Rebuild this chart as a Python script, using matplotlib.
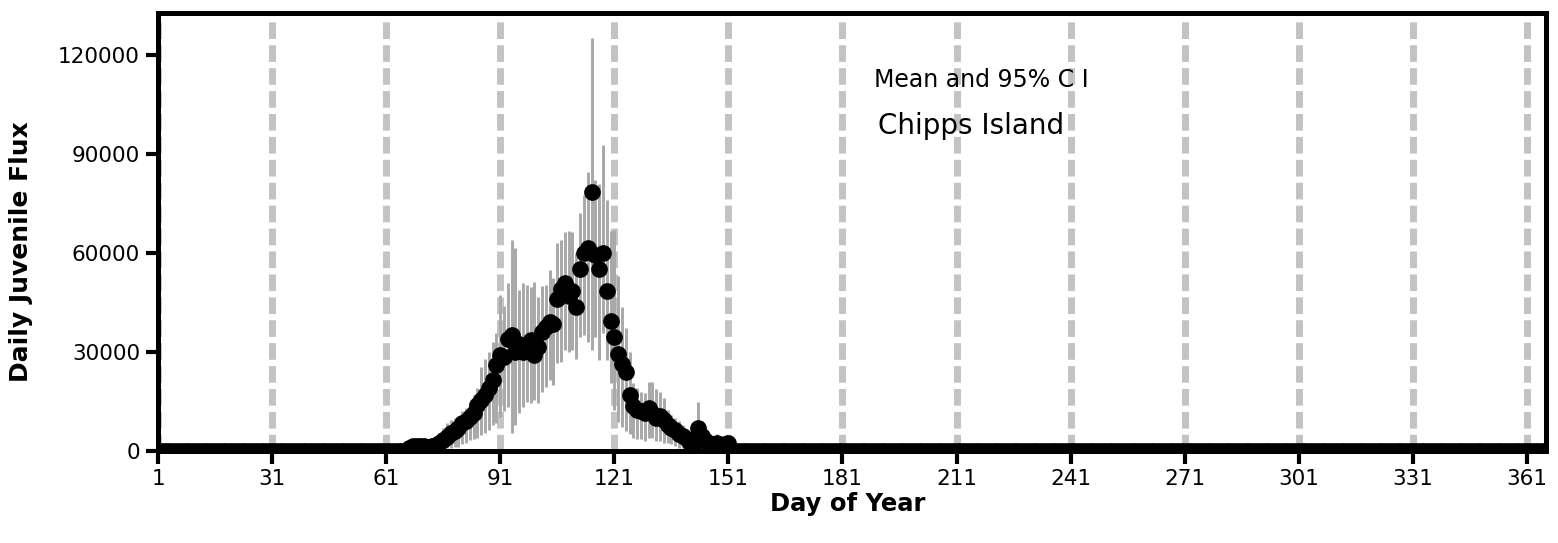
import numpy as np
import matplotlib
matplotlib.use("Agg")
import matplotlib.pyplot as plt

# ---- data ----
days_active = list(range(66, 153))
mean_active = [0, 1000, 1500, 1500, 1500, 1500, 1200, 1500, 1800, 2500,
               3300, 4300, 5400, 6000, 7000, 8500, 9000, 10300, 11500, 14000,
               15500, 17000, 19000, 21500, 26000, 29000, 28500, 34000, 35000, 30000,
               32500, 30000, 32000, 33500, 29000, 31500, 36000, 37500, 39000, 38500,
               46000, 49000, 51000, 47000, 48500, 43500, 55000, 60000, 61500, 78500,
               59500, 55000, 60000, 48500, 39500, 34500, 29500, 26500, 24000, 17000,
               13500, 12500, 12000, 11500, 13000, 11500, 10000, 10500, 9500, 8000,
               7000, 6500, 5000, 4500, 3500, 2500, 2000, 7000, 4500, 3000,
               2000, 2000, 2500, 1500, 2000, 2500, 0]
lower_active = [0, 0, 200, 300, 300, 300, 200, 300, 300, 500,
                600, 800, 1000, 1200, 1200, 2000, 2500, 3300, 3500, 3900,
                4800, 5500, 6400, 8000, 8500, 10300, 12000, 13300, 5400, 8000,
                11500, 13300, 14800, 14500, 15500, 14500, 18000, 19400, 21500, 20000,
                26700, 27000, 30600, 30000, 30600, 28000, 34500, 35000, 33000, 30600,
                34500, 27500, 35700, 27500, 20600, 12400, 8800, 7300, 6000, 5000,
                4000, 3500, 3500, 3000, 4000, 4000, 3000, 3000, 2500, 2400,
                2000, 1500, 1000, 800, 500, 300, 300, 2000, 1000, 500,
                300, 300, 500, 200, 300, 500, 0]
upper_active = [0, 2500, 3500, 3500, 3000, 3000, 2800, 3500, 4000, 5500,
                7000, 8500, 9500, 10000, 10300, 12000, 13000, 14800, 17000, 19000,
                25500, 28000, 30000, 33000, 35700, 47300, 44000, 51000, 64000, 61500,
                48800, 51000, 50300, 49700, 51200, 46700, 50000, 50300, 54800, 52500,
                63000, 64000, 66400, 66700, 66400, 60000, 72000, 77600, 84500, 125000,
                82000, 81000, 92700, 76000, 66700, 67000, 53000, 43600, 37300, 30000,
                20600, 19000, 18000, 17500, 21000, 21000, 18900, 18000, 16000, 12400,
                11000, 10000, 9000, 8000, 6500, 5000, 4000, 14800, 9000, 6000,
                4500, 4000, 5000, 3500, 4000, 4500, 0]

days_all = np.arange(1, 367)
x_ticks = [1, 31, 61, 91, 121, 151, 181, 211, 241, 271, 301, 331, 361]
y_ticks = [0, 30000, 60000, 90000, 120000]

# full-year series (zero outside the active period)
mean_all = np.zeros(len(days_all))
low_all = np.zeros(len(days_all))
up_all = np.zeros(len(days_all))
for d, m, lo, hi in zip(days_active, mean_active, lower_active, upper_active):
    mean_all[d - 1] = m
    low_all[d - 1] = lo
    up_all[d - 1] = hi

W, H, DPI = 1558, 543, 100
fig = plt.figure(figsize=(W / DPI, H / DPI), dpi=DPI)
ax = fig.add_axes([158 / W, 1 - 451 / H, (1546 - 158) / W, (451 - 13) / H])

# dashed vertical reference lines
for xt in x_ticks:
    ax.axvline(xt, color="#c3c3c3", lw=5, linestyle=(0, (2.4, 0.9)), zorder=1)

# 95% CI bars
mask = up_all > 0
ax.vlines(days_all[mask], low_all[mask], up_all[mask], color="#a8a8a8", lw=2.1, zorder=2)

# means
ax.plot(days_all, mean_all, linestyle="none", marker="o", markersize=11,
        markerfacecolor="black", markeredgecolor="black", zorder=3, clip_on=True)

ax.set_xlim(1, 366)
ax.set_ylim(0, 132700)
ax.set_xticks(x_ticks)
ax.set_xticklabels([str(t) for t in x_ticks])
ax.set_yticks(y_ticks)
ax.set_yticklabels([str(t) for t in y_ticks])

for s in ax.spines.values():
    s.set_linewidth(3.6)
    s.set_color("black")
ax.tick_params(axis="both", direction="out", length=9, width=3, labelsize=15.5,
               colors="black", pad=4)

ax.set_xlabel("Day of Year", fontsize=17.5, fontweight="bold")
ax.set_ylabel("Daily Juvenile Flux", fontsize=18, fontweight="bold")
ax.xaxis.set_label_coords(0.497, -0.093)
ax.yaxis.set_label_coords(-0.09, 0.455)

ax.text(217.4, 112400, "Mean and 95% C I", fontsize=17, ha="center", va="center")
ax.text(214.8, 98500, "Chipps Island", fontsize=20, ha="center", va="center")

fig.savefig("out.png", dpi=DPI)
